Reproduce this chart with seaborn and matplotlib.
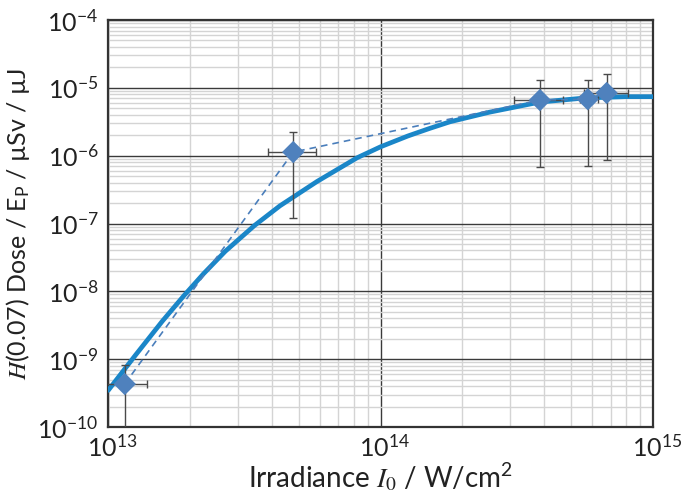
import numpy as np
import pandas as pd
import matplotlib
matplotlib.use("Agg")
import matplotlib.pyplot as plt
import matplotlib.ticker as mticker
import matplotlib.transforms as mtrans
import seaborn as sns

# Calculated dose curve
curve_x = [1.0e13, 1.26e13, 1.58e13, 1.9e13, 2.24e13, 2.69e13, 3.44e13, 4.27e13,
           5.85e13, 8.2e13, 1.0e14, 1.26e14, 1.51e14, 1.8e14, 2.51e14, 3.85e14,
           5.62e14, 7.94e14, 1.0e15]
curve_y = [3.47e-10, 1.15e-9, 3.63e-9, 8.7e-9, 1.82e-8, 3.89e-8, 9.3e-8, 1.82e-7,
           4.17e-7, 9.3e-7, 1.35e-6, 1.95e-6, 2.51e-6, 3.16e-6, 4.37e-6, 6.17e-6,
           7.08e-6, 7.41e-6, 7.41e-6]

# Measured points with error bars
meas_x = [1.15e13, 4.78e13, 3.85e14, 5.77e14, 6.77e14]
meas_y = [4.3e-10, 1.13e-6, 6.6e-6, 6.8e-6, 8.4e-6]
x_lo = [0.98e13, 3.86e13, 3.09e14, 5.4e14, 5.6e14]
x_hi = [1.39e13, 5.8e13, 4.68e14, 6.3e14, 8.1e14]
y_lo = [5.0e-11, 1.2e-7, 6.8e-7, 7.0e-7, 8.6e-7]
y_hi = [8.1e-10, 2.23e-6, 1.3e-5, 1.3e-5, 1.6e-5]

x_ticks = [1e13, 1e14, 1e15]
x_tick_labels = ["13", "14", "15"]
y_ticks = [1e-10, 1e-9, 1e-8, 1e-7, 1e-6, 1e-5, 1e-4]
y_tick_labels = ["-10", "-9", "-8", "-7", "-6", "-5", "-4"]

sns.set_theme(style="white")
plt.rcParams["font.family"] = ["Lato", "DejaVu Sans"]
plt.rcParams["mathtext.fontset"] = "stix"

fig = plt.figure(figsize=(6.85, 5.0), dpi=100)
ax = fig.add_axes([0.158, 0.146, 0.795, 0.814])

curve = pd.DataFrame({"x": curve_x, "y": curve_y})
meas = pd.DataFrame({"x": meas_x, "y": meas_y})

ax.set_xscale("log")
ax.set_yscale("log")

sns.lineplot(data=curve, x="x", y="y", color="#1a86c8", lw=3.4, ax=ax, zorder=3,
             sort=False)

xerr = [np.array(meas_x) - np.array(x_lo), np.array(x_hi) - np.array(meas_x)]
yerr = [np.array(meas_y) - np.array(y_lo), np.array(y_hi) - np.array(meas_y)]
ax.errorbar(meas_x, meas_y, xerr=xerr, yerr=yerr, fmt="none", ecolor="#4a4a4a",
            elinewidth=1.0, capsize=3, capthick=1.0, zorder=4)
sns.lineplot(data=meas, x="x", y="y", color="#4a7ebb", lw=1.2, ls=(0, (4, 3)),
             sort=False, ax=ax, zorder=5)
sns.scatterplot(data=meas, x="x", y="y", marker="D", s=130, color="#4f81bd",
                edgecolor="none", ax=ax, zorder=6)

ax.set_xlim(1e13, 1e15)
ax.set_ylim(1e-10, 1e-4)

ax.xaxis.set_major_locator(mticker.FixedLocator(x_ticks))
ax.xaxis.set_minor_locator(mticker.LogLocator(base=10, subs=np.arange(2, 10)))
ax.yaxis.set_major_locator(mticker.FixedLocator(y_ticks))
ax.yaxis.set_minor_locator(mticker.LogLocator(base=10, subs=np.arange(2, 10)))
ax.set_xticklabels([r"$\mathregular{10^{%s}}$" % e for e in x_tick_labels])
ax.set_yticklabels([r"$\mathregular{10^{%s}}$" % e for e in y_tick_labels])
ax.yaxis.set_minor_formatter(mticker.NullFormatter())
ax.xaxis.set_minor_formatter(mticker.NullFormatter())

ax.grid(True, which="major", color="#3a3a3a", lw=1.0)
ax.grid(True, which="minor", color="#d4d4d4", lw=1.0)
ax.set_axisbelow(True)
ax.tick_params(which="both", length=0, labelsize=18, colors="#222222")
ax.tick_params(axis="y", pad=7)
ax.tick_params(axis="x", pad=5)

# Excel-style label placement: x labels sit a little to the right of the tick
shift = mtrans.ScaledTranslation(3 / 72, 0, fig.dpi_scale_trans)
for lab in ax.get_xticklabels():
    lab.set_transform(lab.get_transform() + shift)

for s in ax.spines.values():
    s.set_color("#333333")
    s.set_linewidth(1.6)

ax.set_xlabel(r"Irradiance $I_0$ / W/cm$\mathregular{^2}$", fontsize=20, color="#222222",
              labelpad=0)
ax.set_ylabel(r"$H$(0.07) Dose / E$\mathregular{_P}$ / µSv / µJ", fontsize=18,
              color="#222222", labelpad=4)

fig.savefig("out.png", dpi=100)
